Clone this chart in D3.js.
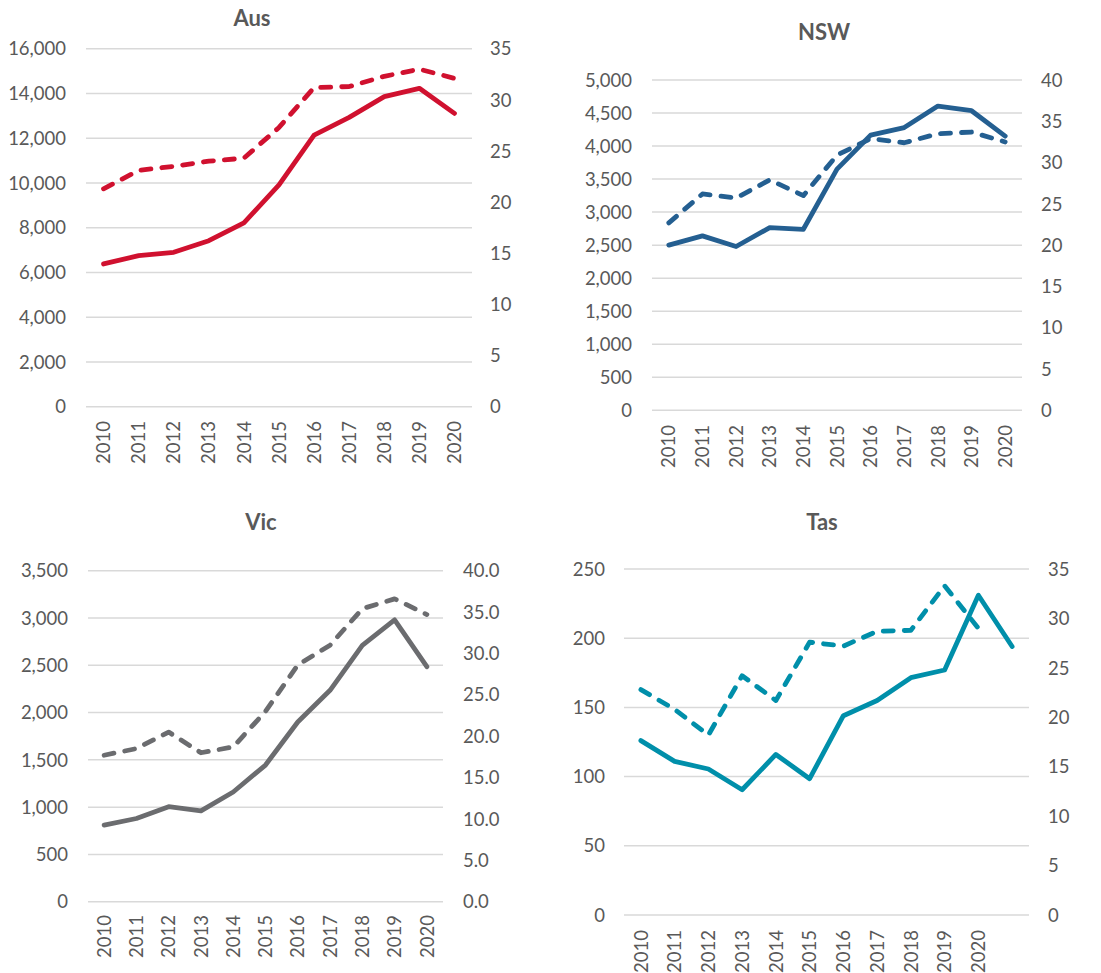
<!DOCTYPE html>
<html><head><meta charset="utf-8">
<script src="https://cdn.jsdelivr.net/npm/d3@7"></script>
<style>
body{margin:0;background:#fff;}
svg text{font-family:Lato,"Open Sans",sans-serif;fill:#595959;}
</style></head>
<body><svg id="c" width="1101" height="973"></svg>
<script>
// ---- data ----
const years = ["2010","2011","2012","2013","2014","2015","2016","2017","2018","2019","2020"];
const tasYears = ["2010","2011","2012","2013","2014","2015","2016","2017","2018","2019","2020",""];

const ausCount = [6380,6750,6900,7420,8220,9910,12140,12930,13860,14230,13110];
const ausRate  = [21.3,23.1,23.5,24.0,24.3,27.3,31.2,31.3,32.3,33.0,32.1];

const nswCount = [2500,2640,2480,2765,2740,3650,4165,4280,4605,4535,4150];
const nswRate  = [22.7,26.2,25.7,27.9,26.0,30.9,32.9,32.4,33.5,33.7,32.5];

const vicCount = [810,880,1005,960,1160,1445,1900,2235,2710,2980,2485];
const vicRate  = [17.7,18.5,20.5,18.0,18.7,23.0,28.6,31.0,35.4,36.6,34.7];

const tasCount = [126,111,105.5,90.5,116,98.5,144,155,171.5,177,231,194];
const tasRate  = [22.8,20.8,18.2,24.2,21.7,27.6,27.2,28.7,28.8,33.3,29.0];

const ausLeftTicks  = [0,2000,4000,6000,8000,10000,12000,14000,16000];
const ausRightTicks = [0,5,10,15,20,25,30,35];
const nswLeftTicks  = [0,500,1000,1500,2000,2500,3000,3500,4000,4500,5000];
const nswRightTicks = [0,5,10,15,20,25,30,35,40];
const vicLeftTicks  = [0,500,1000,1500,2000,2500,3000,3500];
const vicRightTicks = [0,5,10,15,20,25,30,35,40];
const tasLeftTicks  = [0,50,100,150,200,250];
const tasRightTicks = [0,5,10,15,20,25,30,35];

// ---- panels ----
const panels = [
  {title:"Aus", cats:years, count:ausCount, rate:ausRate, lt:ausLeftTicks, rt:ausRightTicks, rfmt:d3.format("d"),
   color:"#D0112F", L:86, R:472, T:48.7, B:406.7, tx:252, ty:26, lx:66, rx:490, yl:421},
  {title:"NSW", cats:years, count:nswCount, rate:nswRate, lt:nswLeftTicks, rt:nswRightTicks, rfmt:d3.format("d"),
   color:"#245F91", L:652, R:1022, T:80, B:410.3, tx:824, ty:40, lx:632, rx:1041, yl:425},
  {title:"Vic", cats:years, count:vicCount, rate:vicRate, lt:vicLeftTicks, rt:vicRightTicks, rfmt:d3.format(".1f"),
   color:"#6B6C6F", L:88, R:443, T:570.7, B:901.7, tx:261, ty:530, lx:68, rx:463, yl:915},
  {title:"Tas", cats:tasYears, count:tasCount, rate:tasRate, lt:tasLeftTicks, rt:tasRightTicks, rfmt:d3.format("d"),
   color:"#008FAA", L:624, R:1029, T:569, B:915, tx:822, ty:530, lx:605, rx:1048, yl:930}
];

const svg = d3.select("#c");
const fmtComma = d3.format(",");

panels.forEach(p => {
  const g = svg.append("g");
  const x = d3.scaleBand().domain(d3.range(p.cats.length)).range([p.L, p.R]);
  const yl = d3.scaleLinear().domain([0, d3.max(p.lt)]).range([p.B, p.T]);
  const yr = d3.scaleLinear().domain([0, d3.max(p.rt)]).range([p.B, p.T]);

  // gridlines
  g.selectAll("line.grid").data(p.lt).join("line")
    .attr("x1", p.L).attr("x2", p.R)
    .attr("y1", d => yl(d)).attr("y2", d => yl(d))
    .attr("stroke", "#D9D9D9").attr("stroke-width", 1.5);

  // left tick labels
  g.selectAll("text.lt").data(p.lt).join("text")
    .attr("x", p.lx).attr("y", d => yl(d)).attr("dy", "0.36em")
    .attr("text-anchor", "end").style("font-size", "18.5px")
    .text(d => fmtComma(d));

  // right tick labels
  g.selectAll("text.rt").data(p.rt).join("text")
    .attr("x", p.rx).attr("y", d => yr(d)).attr("dy", "0.36em")
    .attr("text-anchor", "start").style("font-size", "18.5px")
    .text(d => p.rfmt(d));

  // x labels (rotated)
  g.selectAll("text.xl").data(p.cats).join("text")
    .attr("transform", (d, i) => `translate(${x(i) + x.bandwidth()/2},${p.yl}) rotate(-90)`)
    .attr("dy", "0.36em").attr("text-anchor", "end").style("font-size", "18.5px")
    .text(d => d);

  // title
  g.append("text").attr("x", p.tx).attr("y", p.ty).attr("text-anchor", "middle")
    .style("font-size", "22px").style("font-weight", "bold").text(p.title);

  const cx = i => x(i) + x.bandwidth()/2;
  // dashed rate line
  g.append("path").datum(p.rate)
    .attr("d", d3.line().x((d, i) => cx(i)).y(d => yr(d)))
    .attr("fill", "none").attr("stroke", p.color).attr("stroke-width", 4.8)
    .attr("stroke-dasharray", "10,11").attr("stroke-linecap", "round").attr("stroke-linejoin", "round");
  // solid count line
  g.append("path").datum(p.count)
    .attr("d", d3.line().x((d, i) => cx(i)).y(d => yl(d)))
    .attr("fill", "none").attr("stroke", p.color).attr("stroke-width", 4.8)
    .attr("stroke-linecap", "round").attr("stroke-linejoin", "round");
});
</script></body></html>
